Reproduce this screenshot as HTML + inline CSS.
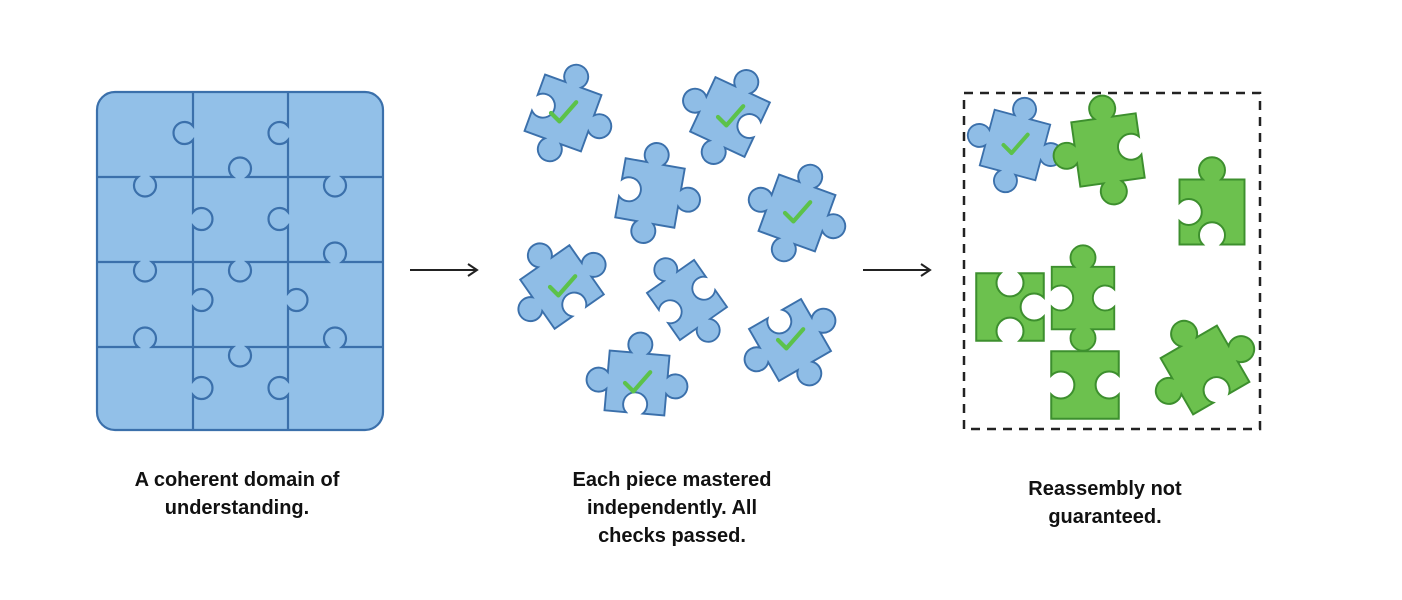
<!DOCTYPE html>
<html><head><meta charset="utf-8"><style>
html,body{margin:0;padding:0;background:#fff;}
.w{position:relative;width:1402px;height:600px;overflow:hidden;font-family:"Liberation Sans",sans-serif;}
.t{position:absolute;font-weight:bold;font-size:20px;line-height:28px;text-align:center;color:#111;}
</style></head><body><div class="w">
<svg width="1402" height="600" style="position:absolute;left:0;top:0">
<defs>
<path id="oooi" d="M-25,-25 L-7,-25 A10,10 0 1 1 7,-25 L25,-25 L25,-7 A10,10 0 1 1 25,7 L25,25 L7,25 A10,10 0 1 1 -7,25 L-25,25 L-25,7 A10,10 0 1 0 -25,-7 Z"/>
<path id="oooo" d="M-25,-25 L-7,-25 A10,10 0 1 1 7,-25 L25,-25 L25,-7 A10,10 0 1 1 25,7 L25,25 L7,25 A10,10 0 1 1 -7,25 L-25,25 L-25,7 A10,10 0 1 1 -25,-7 Z"/>
<path id="oioo" d="M-25,-25 L-7,-25 A10,10 0 1 1 7,-25 L25,-25 L25,-7 A10,10 0 1 0 25,7 L25,25 L7,25 A10,10 0 1 1 -7,25 L-25,25 L-25,7 A10,10 0 1 1 -25,-7 Z"/>
<path id="oioi" d="M-25,-25 L-7,-25 A10,10 0 1 1 7,-25 L25,-25 L25,-7 A10,10 0 1 0 25,7 L25,25 L7,25 A10,10 0 1 1 -7,25 L-25,25 L-25,7 A10,10 0 1 0 -25,-7 Z"/>
<path id="ofii" d="M-25,-25 L-7,-25 A10,10 0 1 1 7,-25 L25,-25 L25,25 L7,25 A10,10 0 1 0 -7,25 L-25,25 L-25,7 A10,10 0 1 0 -25,-7 Z"/>
<path id="iiif" d="M-25,-25 L-7,-25 A10,10 0 1 0 7,-25 L25,-25 L25,-7 A10,10 0 1 0 25,7 L25,25 L7,25 A10,10 0 1 0 -7,25 L-25,25 Z"/>
<path id="fifi" d="M-25,-25 L25,-25 L25,-7 A10,10 0 1 0 25,7 L25,25 L-25,25 L-25,7 A10,10 0 1 0 -25,-7 Z"/>
<path id="ooio" d="M-25,-25 L-7,-25 A10,10 0 1 1 7,-25 L25,-25 L25,-7 A10,10 0 1 1 25,7 L25,25 L7,25 A10,10 0 1 0 -7,25 L-25,25 L-25,7 A10,10 0 1 1 -25,-7 Z"/>
<path id="ck" d="M-10,0 L-3,7 L11,-9" fill="none" stroke="#5cc24a" stroke-width="3.5" stroke-linecap="round" stroke-linejoin="round"/>
</defs>
<g fill="none" stroke="#3b70ab" stroke-width="2.2">
<rect x="97" y="92" width="286" height="338" rx="18" fill="#92c0e8"/>
<path d="M193,92 L193,126 A11,11 0 1 0 193,140 L193,212 A11,11 0 1 1 193,226 L193,293 A11,11 0 1 1 193,307 L193,381 A11,11 0 1 1 193,395 L193,430"/>
<path d="M288,92 L288,126 A11,11 0 1 0 288,140 L288,212 A11,11 0 1 0 288,226 L288,293 A11,11 0 1 1 288,307 L288,381 A11,11 0 1 0 288,395 L288,430"/>
<path d="M97,177 L138,177 A11,11 0 1 0 152,177 L233,177 A11,11 0 1 1 247,177 L328,177 A11,11 0 1 0 342,177 L383,177"/>
<path d="M97,262 L138,262 A11,11 0 1 0 152,262 L233,262 A11,11 0 1 0 247,262 L328,262 A11,11 0 1 1 342,262 L383,262"/>
<path d="M97,347 L138,347 A11,11 0 1 1 152,347 L233,347 A11,11 0 1 0 247,347 L328,347 A11,11 0 1 1 342,347 L383,347"/>
</g>
<g stroke="#222" stroke-width="2" fill="none">
<path d="M410,270 L476,270 M468,264 L477,270 L468,276"/>
<path d="M863,270 L929,270 M921,264 L930,270 L921,276"/>
</g>
<g fill="#8fbde6" stroke="#3b70ab" stroke-width="1.6">
<g transform="translate(563,113) rotate(20) scale(1.2)"><use href="#oooi"/><use href="#ck" transform="rotate(-20)"/></g>
<g transform="translate(730,117) rotate(25) scale(1.2)"><use href="#oooi" transform="rotate(180)"/><use href="#ck" transform="rotate(-25)"/></g>
<g transform="translate(650,193) rotate(10) scale(1.2)"><use href="#oooi"/></g>
<g transform="translate(797,213) rotate(20) scale(1.2)"><use href="#oooo"/><use href="#ck" transform="rotate(-20)"/></g>
<g transform="translate(562,287) rotate(-35) scale(1.2)"><use href="#oioo" transform="rotate(90)"/><use href="#ck" transform="rotate(35)"/></g>
<g transform="translate(687,300) rotate(-35) scale(1.15)"><use href="#oioi"/></g>
<g transform="translate(790,340) rotate(-30) scale(1.2)"><use href="#oooi" transform="rotate(90)"/><use href="#ck" transform="rotate(30)"/></g>
<g transform="translate(637,383) rotate(5) scale(1.2)"><use href="#oioo" transform="rotate(90)"/><use href="#ck" transform="rotate(-5)"/></g>
</g>
<rect x="964" y="93" width="296" height="336" fill="none" stroke="#222" stroke-width="2.5" stroke-dasharray="9,7"/>
<g fill="#8fbde6" stroke="#3b70ab" stroke-width="1.6">
<g transform="translate(1015,145) rotate(15) scale(1.15)"><use href="#oooo"/><use href="#ck" transform="rotate(-15)"/></g>
</g>
<g fill="#6cc14e" stroke="#3d8f2e" stroke-width="1.5">
<g transform="translate(1108,150) rotate(-8) scale(1.3)"><use href="#oioo"/></g>
<g transform="translate(1212,212) scale(1.3)"><use href="#ofii"/></g>
<g transform="translate(1010,307) scale(1.35)"><use href="#iiif"/></g>
<g transform="translate(1083,298) scale(1.25)"><use href="#oioi"/></g>
<g transform="translate(1085,385) scale(1.35)"><use href="#fifi"/></g>
<g transform="translate(1205,370) rotate(-30) scale(1.3)"><use href="#ooio"/></g>
</g>
</svg>
<div class="t" style="left:87px;top:466px;width:300px;">A coherent domain of<br>understanding.</div>
<div class="t" style="left:522px;top:466px;width:300px;">Each piece mastered<br>independently. All<br>checks passed.</div>
<div class="t" style="left:955px;top:475px;width:300px;">Reassembly not<br>guaranteed.</div>
</div></body></html>
